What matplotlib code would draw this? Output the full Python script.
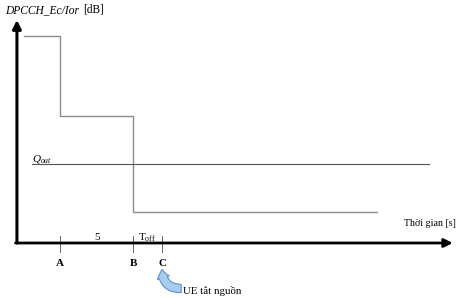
import matplotlib.pyplot as plt
from matplotlib.patches import FancyArrowPatch

plt.rcParams['font.family'] = ['Liberation Serif', 'DejaVu Serif']
plt.rcParams['mathtext.fontset'] = 'custom'
plt.rcParams['mathtext.rm'] = 'Liberation Serif'
plt.rcParams['mathtext.it'] = 'Liberation Serif:italic'

# step profile of DPCCH_Ec/Ior over time (s, arbitrary dB units)
step_times = [-2.5, 0.0, 0.0, 5.0, 5.0, 21.7]
step_levels = [20.7, 20.7, 12.7, 12.7, 3.1, 3.1]

q_out = 7.9
q_out_span = [-1.9, 25.3]

tick_names = ['A', 'B', 'C']
tick_times = [0.0, 5.0, 7.0]

fig = plt.figure(figsize=(4.57, 2.97), dpi=100)
ax = fig.add_axes([0, 0, 1, 1])
ax.set_xlim(-4.11, 27.19)
ax.set_ylim(-5.4, 24.3)
ax.axis('off')

# axes with arrows
ax.annotate('', xy=(-2.95, 22.3), xytext=(-2.95, 0), annotation_clip=False,
            arrowprops=dict(arrowstyle='-|>,head_width=0.25,head_length=0.5',
                            color='black', lw=2.2, shrinkA=0, shrinkB=0))
ax.annotate('', xy=(26.9, 0), xytext=(-3.05, 0), annotation_clip=False,
            arrowprops=dict(arrowstyle='-|>,head_width=0.25,head_length=0.5',
                            color='black', lw=2.0, shrinkA=0, shrinkB=0))

# signal and threshold
ax.plot(step_times, step_levels, color='#8c8c8c', lw=1.0)
ax.plot(q_out_span, [q_out, q_out], color='#555555', lw=0.8)

# time markers
for name, t in zip(tick_names, tick_times):
    ax.plot([t, t], [0.7, -0.9], color='#666666', lw=0.7)
    ax.text(t, -2.0, name, ha='center', va='center', fontsize=8,
            fontweight='bold')

ax.text(2.55, 0.5, '5', ha='center', va='center', fontsize=8)
ax.text(5.95, 0.5, r'T$_{\mathregular{off}}$', ha='center', va='center',
        fontsize=8)

# labels
ax.text(-3.75, 23.3, 'DPCCH_Ec/Ior', ha='left', va='center', fontsize=8.3,
        style='italic')
ax.text(1.6, 23.3, '[dB]', ha='left', va='center', fontsize=8.3)
ax.text(-1.9, 8.4, r'$Q_{out}$', ha='left', va='center', fontsize=8)
ax.text(27.1, 2.0, 'Thời gian [s]', ha='right', va='center', fontsize=7.2)
ax.text(8.45, -4.75, 'UE tắt nguồn', ha='left', va='center', fontsize=7.8)

# bent arrow pointing at C
arrow = FancyArrowPatch((8.3, -4.55), (7.0, -2.65),
                        connectionstyle='angle3,angleA=0,angleB=90',
                        arrowstyle='simple,head_width=9,head_length=6,tail_width=6',
                        facecolor='#a9cbee', edgecolor='#5b8fcf', lw=0.8,
                        mutation_scale=1, shrinkA=0, shrinkB=0)
ax.add_patch(arrow)

fig.savefig('out.png', dpi=100)
